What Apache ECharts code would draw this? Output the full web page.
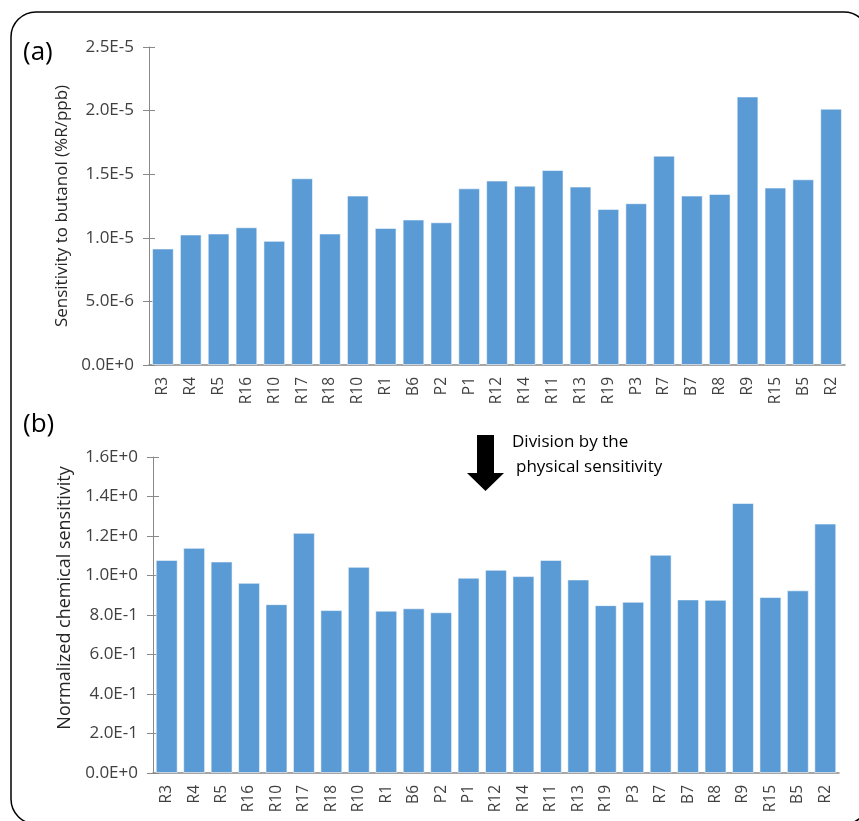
<!DOCTYPE html>
<html>
<head>
<meta charset="utf-8">
<script src="https://cdn.jsdelivr.net/npm/echarts@6/dist/echarts.min.js"></script>
<style>
html,body{margin:0;padding:0;background:#fff;}
#chart{width:859px;height:821px;}
</style>
</head>
<body>
<div id="chart"></div>
<script>
const categories = ['R3','R4','R5','R16','R10','R17','R18','R10','R1','B6','P2','P1','R12','R14','R11','R13','R19','P3','R7','B7','R8','R9','R15','B5','R2'];
const sensitivityButanol = [9.16e-6,1.026e-5,1.034e-5,1.083e-5,9.76e-6,1.468e-5,1.034e-5,1.332e-5,1.078e-5,1.144e-5,1.122e-5,1.389e-5,1.450e-5,1.410e-5,1.533e-5,1.403e-5,1.227e-5,1.272e-5,1.646e-5,1.332e-5,1.345e-5,2.111e-5,1.395e-5,1.460e-5,2.015e-5];
const normalizedSensitivity = [1.079,1.140,1.071,0.963,0.855,1.216,0.825,1.044,0.822,0.834,0.814,0.989,1.029,0.997,1.079,0.980,0.850,0.867,1.105,0.879,0.877,1.367,0.891,0.925,1.263];
const yTicksTop = {min:0, max:2.5e-5, interval:5e-6};
const yTicksBottom = {min:0, max:1.6, interval:0.2};

const FONT = 'Open Sans';
const TXT = '#404040';
const AX = '#898989';
const BAR = '#5B9BD5';

function expFmt(v){
  return Number(v).toExponential(1).toUpperCase();
}

function mainY(gridIndex, t, name, nameGap, nameSize, shift){
  return {
    type:'value', gridIndex, min:t.min, max:t.max, interval:t.interval, position:'left',
    name, nameLocation:'middle', nameGap, nameRotate:90,
    nameTextStyle:{fontFamily:FONT, fontSize:nameSize, color:'#262626', padding:[0,0,0,shift]},
    axisLine:{show:true, lineStyle:{color:AX, width:1}},
    axisTick:{show:true, length:6, lineStyle:{color:AX}},
    axisLabel:{formatter:expFmt, fontFamily:FONT, fontSize:17, color:TXT, margin:15},
    splitLine:{show:false}
  };
}
function crossY(gridIndex, t){
  return {
    type:'value', gridIndex, min:t.min, max:t.max, interval:t.interval, position:'left',
    axisLine:{show:false},
    axisTick:{show:true, inside:true, length:6, lineStyle:{color:AX}},
    axisLabel:{show:false}, splitLine:{show:false}
  };
}
function xAx(gridIndex){
  return {
    type:'category', gridIndex, data:categories,
    axisLine:{show:true, lineStyle:{color:AX, width:1.5}},
    axisTick:{show:false},
    axisLabel:{rotate:90, fontFamily:FONT, fontSize:15.5, color:TXT, margin:12, interval:0}
  };
}

const chart = echarts.init(document.getElementById('chart'), null, {renderer:'canvas'});
chart.setOption({
  animation:false,
  backgroundColor:'#fff',
  grid:[
    {left:149, top:47, right:14, bottom:456},
    {left:153, top:457, right:20, bottom:48}
  ],
  xAxis:[xAx(0), xAx(1)],
  yAxis:[
    mainY(0, yTicksTop, 'Sensitivity to butanol (%R/ppb)', 77, 17, 0),
    crossY(0, yTicksTop),
    mainY(1, yTicksBottom, 'Normalized chemical sensitivity', 79, 18, 34),
    crossY(1, yTicksBottom)
  ],
  series:[
    {type:'bar', xAxisIndex:0, yAxisIndex:0, data:sensitivityButanol, barCategoryGap:'22%',
     itemStyle:{color:BAR, borderColor:'rgba(255,255,255,0.55)', borderWidth:1}},
    {type:'bar', xAxisIndex:1, yAxisIndex:2, data:normalizedSensitivity, barCategoryGap:'20%',
     itemStyle:{color:BAR, borderColor:'rgba(255,255,255,0.55)', borderWidth:1}}
  ],
  graphic:[
    {type:'rect', shape:{x:11, y:12, width:858, height:812, r:25}, style:{fill:null, stroke:'#000', lineWidth:1.5}, z:-1},
    {type:'text', left:23, top:40, style:{text:'(a)', fontFamily:FONT, fontSize:26, fill:'#000'}},
    {type:'text', left:23, top:412, style:{text:'(b)', fontFamily:FONT, fontSize:26, fill:'#000'}},
    {type:'polygon', shape:{points:[[477,435],[494,435],[494,473],[504,473],[485.5,491],[467,473],[477,473]]}, style:{fill:'#000'}},
    {type:'text', left:512, top:434, style:{text:'Division by the', fontFamily:FONT, fontSize:17, fill:'#000'}},
    {type:'text', left:516, top:459, style:{text:'physical sensitivity', fontFamily:FONT, fontSize:17, fill:'#000'}}
  ]
});
</script>
</body>
</html>
